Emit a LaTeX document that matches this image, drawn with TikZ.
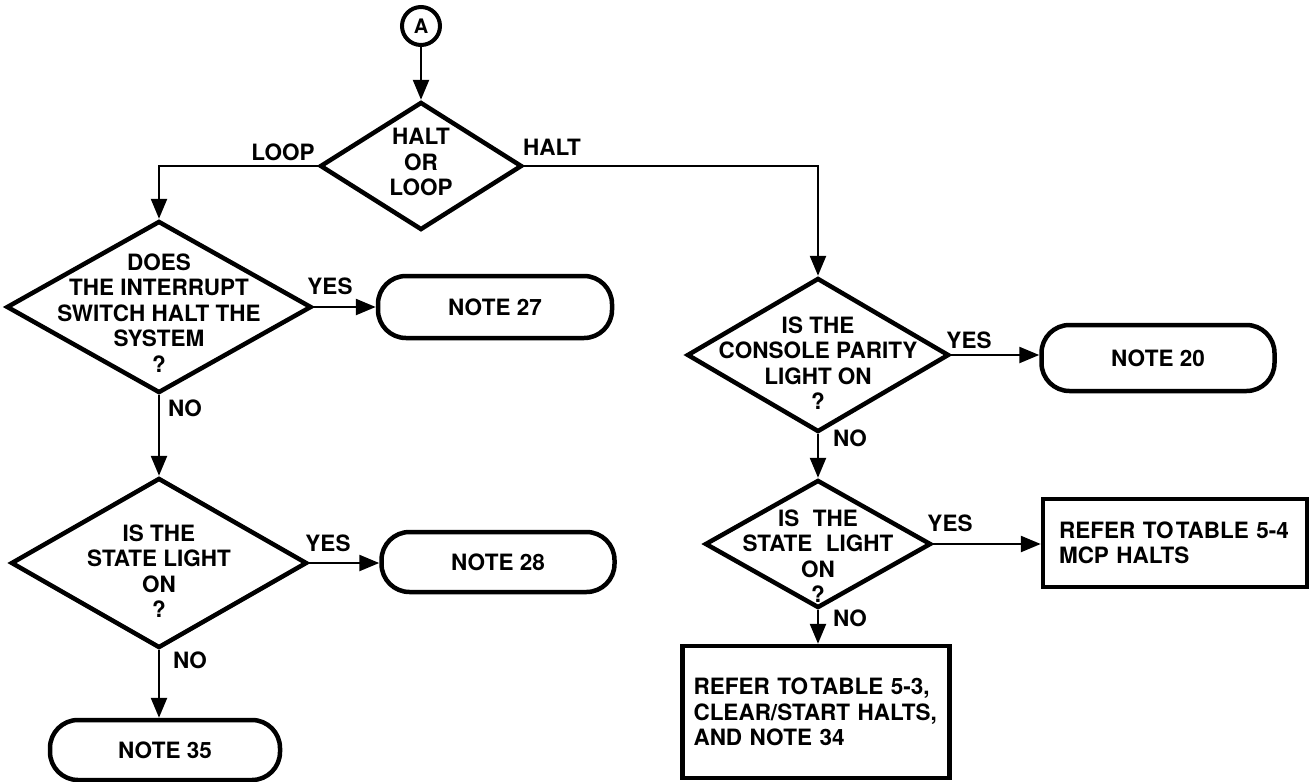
\documentclass[tikz,border=0pt]{standalone}
\usepackage{fontspec}
\setmainfont{TeX Gyre Heros}
\usetikzlibrary{shapes.geometric,arrows.meta}
\begin{document}
\begin{tikzpicture}[x=1pt,y=-1pt,
  txt/.style={font=\fontsize{22.5}{25.5}\selectfont\bfseries, align=center},
  dec/.style={diamond, draw, line width=4.5pt, inner sep=0pt},
  term/.style={rectangle, draw, line width=4.5pt, rounded corners=28pt, txt},
  refbox/.style={rectangle, draw, line width=4.5pt, txt, align=left},
  conn/.style={line width=2.5pt, -{Triangle[length=20pt,width=16pt]}},
  lbl/.style={txt}]
\useasboundingbox (0,0) rectangle (1310,782);

% connector A
\node[circle, draw, line width=4pt, minimum size=38pt, inner sep=0pt,
      font=\fontsize{20}{22}\selectfont\bfseries] (A) at (421,26) {A};

% decisions
\node[dec, minimum width=202pt, minimum height=128pt,
      label={[txt,yshift=4pt]center:HALT\\OR\\LOOP}] (d1) at (421,166) {};
\node[dec, minimum width=305pt, minimum height=172pt,
      label={[txt,yshift=-6pt]center:DOES\\THE INTERRUPT\\SWITCH HALT THE\\SYSTEM\\?}] (d2) at (159,307) {};
\node[dec, minimum width=296pt, minimum height=170pt,
      label={[txt,yshift=-8pt]center:IS THE\\STATE LIGHT\\ON\\?}] (d3) at (159,563) {};
\node[dec, minimum width=262pt, minimum height=154pt,
      label={[txt,yshift=-8pt]center:IS THE\\CONSOLE PARITY\\LIGHT ON\\?}] (d4) at (818,355) {};
\node[dec, minimum width=226pt, minimum height=128pt,
      label={[txt,yshift=-12pt]center:IS\hspace{0.6em}THE\\STATE\hspace{0.6em}LIGHT\\ON\\?}] (d5) at (818,544) {};

% terminals
\node[term, minimum width=234pt, minimum height=62pt] (n27) at (495,307) {NOTE 27};
\node[term, minimum width=233pt, minimum height=60pt] (n28) at (498,562) {NOTE 28};
\node[term, minimum width=230pt, minimum height=60pt] (n35) at (165,750) {NOTE 35};
\node[term, minimum width=233pt, minimum height=66pt] (n20) at (1158,358) {NOTE 20};

% reference boxes
\node[refbox, inner xsep=16pt, text width=232pt, minimum height=88pt] (b54) at (1175,543)
  {REFER TO\hspace{0.1em}TABLE 5-4\\MCP HALTS};
\node[refbox, inner xsep=11pt, text width=245pt, minimum height=132pt] (b53) at (816,712)
  {REFER TO\hspace{0.1em}TABLE 5-3,\\CLEAR/START HALTS,\\AND NOTE 34};

% connectors
\draw[conn] (A) -- (d1.north);
\draw[conn] (d1.west) -| (d2.north);
\draw[conn] (d1.east) -| (d4.north);
\draw[conn] (d2.east) -- (d2.east -| n27.west);
\draw[conn] (d2.south) -- (d3.north);
\draw[conn] (d3.east) -- (d3.east -| n28.west);
\draw[conn] (d3.south) -- (d3.south |- n35.north);
\draw[conn] (d4.east) -- (d4.east -| n20.west);
\draw[conn] (d4.south) -- (d5.north);
\draw[conn] (d5.east) -- (d5.east -| b54.west);
\draw[conn] (d5.south) -- (d5.south |- b53.north);

% branch labels
\node[lbl] (lloop) at (283,152) {LOOP};
\node[lbl] (lhalt) at (552,147) {HALT};
\node[lbl] (y2) at (330,286) {YES};
\node[lbl] (no2) at (185,408) {NO};
\node[lbl] (y3) at (328,543) {YES};
\node[lbl] (no3) at (190,660) {NO};
\node[lbl] (y4) at (969,340) {YES};
\node[lbl] (no4) at (850,438) {NO};
\node[lbl] (y5) at (950,523) {YES};
\node[lbl] (no5) at (850,618) {NO};
\end{tikzpicture}
\end{document}
